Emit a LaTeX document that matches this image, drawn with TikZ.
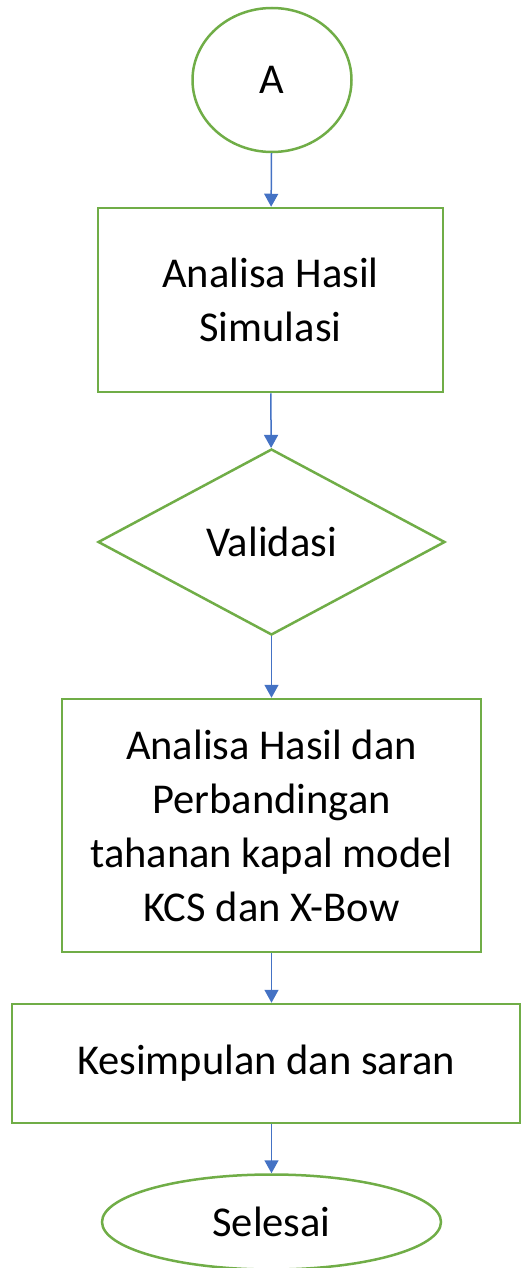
\documentclass[tikz,border=0pt]{standalone}
\usepackage{fontspec}
\setmainfont{Carlito}
\usepackage{tikz}
\usetikzlibrary{shapes.geometric, arrows.meta, positioning}
\definecolor{boxgreen}{RGB}{112,173,71}
\definecolor{flowblue}{RGB}{68,114,196}
\tikzset{
    terminal/.style={ellipse, draw=boxgreen, line width=2.5pt, inner sep=0pt, text centered},
    process/.style={rectangle, draw=boxgreen, line width=2.5pt, inner sep=0pt, align=center},
    decision/.style={diamond, draw=boxgreen, line width=2.5pt, inner sep=0pt, text centered},
    flow/.style={-{Triangle[length=13pt, width=14pt]}, line width=1.5pt, draw=flowblue!75, color=flowblue}
}
\begin{document}
\begin{tikzpicture}[x=1pt, y=-1pt, font=\fontsize{42.5}{54}\selectfont]
    \useasboundingbox (0,0) rectangle (522,1268);
    % Steps
    \node[terminal, minimum width=159pt, minimum height=144pt] (start) at (272,80) {A};
    \node[process, minimum width=345pt, minimum height=184pt] (simulasi) at (270.5,300) {Analisa Hasil\\ Simulasi};
    \node[decision, minimum width=347pt, minimum height=186pt] (validasi) at (271.5,542) {Validasi};
    \node[process, minimum width=419pt, minimum height=253pt] (banding) at (271.5,825.5) {Analisa Hasil dan\\ Perbandingan\\ tahanan kapal model\\ KCS dan X-Bow};
    \node[process, minimum width=508pt, minimum height=119pt] (simpulan) at (266,1063.5) {Kesimpulan dan saran};
    \node[terminal, minimum width=339pt, minimum height=95pt] (selesai) at (271.5,1222) {Selesai};

    % Flow
    \draw[flow] (start) -- (simulasi);
    \draw[flow] (simulasi) -- (validasi);
    \draw[flow] (validasi) -- (banding);
    \draw[flow] (banding) -- (banding |- simpulan.north);
    \draw[flow] (banding |- simpulan.south) -- (selesai);
\end{tikzpicture}
\end{document}
